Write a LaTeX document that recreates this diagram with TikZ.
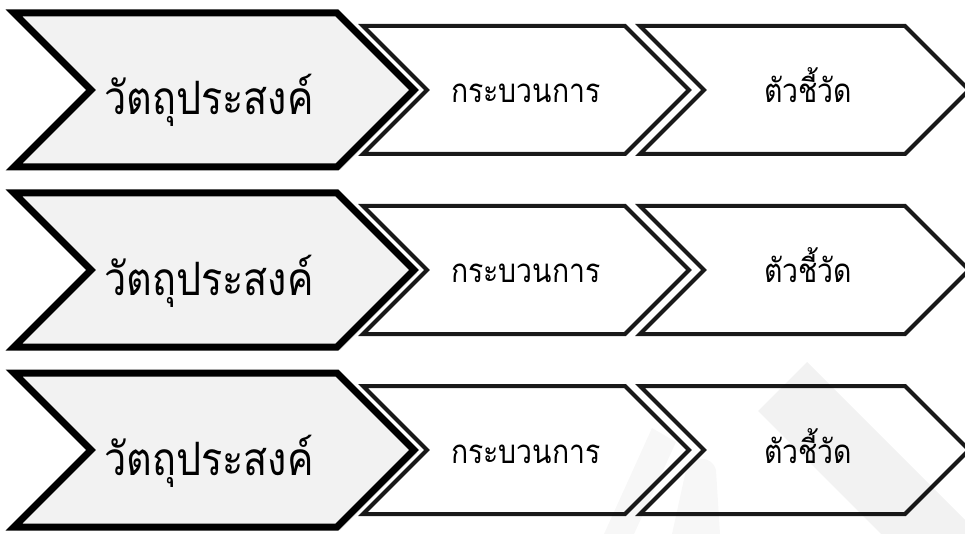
\documentclass[tikz,border=0pt]{standalone}
\usepackage{fontspec}
\newfontfamily\thaifont[Script=Thai,FakeStretch=0.86]{Loma}
\begin{document}
\begin{tikzpicture}[x=1pt,y=-1pt,
  bigchev/.style={draw=black,line width=7pt,fill=black!5,line join=miter},
  smallchev/.style={draw=black!90,line width=4pt,fill=white,line join=miter},
  shadowchev/.style={fill=black!35,opacity=0.3},
  bigtext/.style={font=\thaifont\fontsize{46}{50}\selectfont,anchor=base,inner sep=0pt},
  smalltext/.style={font=\thaifont\fontsize{33}{38}\selectfont,anchor=base,inner sep=0pt},
  wmark/.style={fill=black,opacity=0.05}]
\useasboundingbox (0,0) rectangle (965,534);
\fill[white] (0,0) rectangle (965,534);
\foreach \c/\r in {90/a,270/b,450/c}{
  % third chevron
  \fill[shadowchev] (641.5,\c-62.5) -- (906.5,\c-62.5) -- (970.5,\c+1.5) -- (906.5,\c+65.5) -- (641.5,\c+65.5) -- (705.5,\c+1.5) -- cycle;
  \draw[smallchev] (640,\c-64) -- (905,\c-64) -- (969,\c) -- (905,\c+64) -- (640,\c+64) -- (704,\c) -- cycle;
  % second chevron
  \fill[shadowchev] (364.5,\c-62.5) -- (626.5,\c-62.5) -- (690.5,\c+1.5) -- (626.5,\c+65.5) -- (364.5,\c+65.5) -- (428.5,\c+1.5) -- cycle;
  \draw[smallchev] (363,\c-64) -- (625,\c-64) -- (689,\c) -- (625,\c+64) -- (363,\c+64) -- (427,\c) -- cycle;
  % big chevron
  \fill[shadowchev] (17,\c-74) -- (340,\c-74) -- (417,\c+3) -- (340,\c+80) -- (17,\c+80) -- (94,\c+3) -- cycle;
  \draw[bigchev] (14,\c-77) -- (337,\c-77) -- (414,\c) -- (337,\c+77) -- (14,\c+77) -- (91,\c) -- cycle;
  \node[bigtext] (obj\r) at (209,\c+25) {วัตถุประสงค์};
  \node[smalltext] (proc\r) at (526,\c+13) {กระบวนการ};
  \node[smalltext] (ind\r) at (808,\c+13) {ตัวชี้วัด};
}
% faint watermark
\fill[wmark] (807,362) -- (965,520) -- (965,534) -- (881,534) -- (758,411) -- cycle;
\fill[wmark,opacity=0.03] (652,428) -- (676,442) -- (634,534) -- (604,534) -- cycle;
\fill[wmark,opacity=0.03] (672,534) -- (686,470) .. controls (692,455) and (712,455) .. (716,470) -- (720,534) -- cycle;
\end{tikzpicture}
\end{document}
